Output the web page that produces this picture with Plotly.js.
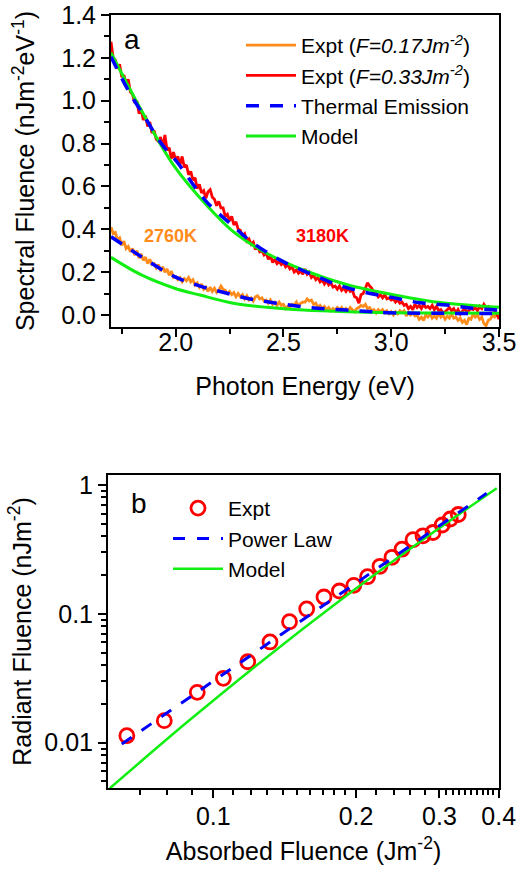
<!DOCTYPE html>
<html>
<head>
<meta charset="utf-8">
<script src="https://cdn.plot.ly/plotly-3.0.1.min.js"></script>
<style>html,body{margin:0;padding:0;background:#fff;}#chart{width:519px;height:871px;}</style>
</head>
<body>
<div id="chart"></div>
<script>
// ---------- Panel a : spectral fluence ----------
// photon energy grid of the experimental spectra (eV), 1.70 ... 3.50 step 0.01
const energyStart = 1.70, energyStep = 0.01;
const exptHigh = [ // Expt F=0.33 Jm^-2 (red)
  1.275,1.20,1.19,1.15,1.17,1.11,1.12,1.08,1.10,1.04,
  1.03,0.99,1.00,0.94,0.96,0.91,0.93,0.88,0.90,0.85,
  0.86,0.82,0.81,0.83,0.78,0.84,0.77,0.78,0.73,0.76,
  0.72,0.74,0.70,0.74,0.69,0.70,0.655,0.67,0.63,0.64,
  0.59,0.61,0.57,0.58,0.545,0.575,0.585,0.55,0.54,0.51,
  0.53,0.50,0.50,0.46,0.47,0.44,0.46,0.42,0.435,0.40,
  0.395,0.37,0.38,0.345,0.355,0.33,0.34,0.305,0.325,0.295,
  0.30,0.28,0.29,0.26,0.275,0.245,0.26,0.24,0.25,0.235,
  0.245,0.225,0.235,0.215,0.225,0.20,0.21,0.195,0.205,0.19,
  0.215,0.19,0.20,0.175,0.185,0.165,0.175,0.155,0.165,0.145,
  0.16,0.14,0.15,0.13,0.135,0.12,0.135,0.115,0.125,0.11,
  0.125,0.11,0.115,0.085,0.08,0.055,0.095,0.10,0.125,0.15,
  0.135,0.125,0.10,0.105,0.085,0.095,0.08,0.095,0.075,0.08,
  0.07,0.075,0.06,0.07,0.055,0.06,0.045,0.05,0.03,0.04,
  0.025,0.05,0.035,0.045,0.03,0.05,0.035,0.04,0.03,0.045,
  0.025,0.04,0.02,0.025,0.01,0.015,0.025,0.035,0.02,0.03,
  0.01,0.025,0.005,0.02,0.03,0.015,0.02,0.03,0.025,0.035,
  0.02,0.04,0.03,0.05,0.035,0.04,0.025,0.03,0.015,0.005,-0.02
];
const exptLow = [ // Expt F=0.17 Jm^-2 (orange)
  0.41,0.38,0.385,0.35,0.36,0.325,0.345,0.31,0.32,0.295,
  0.31,0.28,0.30,0.265,0.285,0.255,0.27,0.24,0.26,0.235,
  0.24,0.22,0.235,0.205,0.225,0.20,0.215,0.185,0.205,0.175,
  0.18,0.165,0.175,0.155,0.17,0.16,0.175,0.155,0.165,0.14,
  0.15,0.13,0.145,0.12,0.13,0.11,0.13,0.11,0.125,0.105,
  0.115,0.135,0.12,0.115,0.10,0.11,0.095,0.105,0.085,0.10,
  0.085,0.095,0.075,0.09,0.07,0.08,0.065,0.085,0.09,0.075,
  0.08,0.065,0.07,0.055,0.07,0.05,0.06,0.045,0.06,0.045,
  0.05,0.03,0.04,0.035,0.05,0.045,0.06,0.04,0.055,0.06,
  0.06,0.075,0.065,0.07,0.05,0.055,0.035,0.045,0.03,0.04,
  0.025,0.035,0.02,0.03,0.02,0.035,0.025,0.035,0.02,0.03,
  0.02,0.035,0.025,0.015,0.03,0.035,0.045,0.04,0.05,0.03,
  0.035,0.02,0.025,0.01,0.025,0.015,0.025,0.01,0.02,0.005,
  0.015,0.0,0.015,0.005,0.02,0.01,0.02,-0.005,0.01,0.0,
  0.01,-0.005,0.0,-0.02,-0.01,-0.025,0.0,-0.01,0.005,-0.015,
  -0.005,-0.015,0.01,-0.01,0.0,-0.02,-0.005,-0.015,0.005,-0.015,
  -0.01,-0.025,-0.015,-0.035,-0.025,-0.045,-0.015,-0.02,0.005,-0.01,
  0.0,-0.02,-0.01,-0.04,-0.05,-0.025,-0.02,0.0,-0.01,0.005,-0.01
];
const energy = exptHigh.map((_, i) => +(energyStart + i * energyStep).toFixed(2));

// thermal emission fits (blue dashed)
const thermHighE = [1.70,1.779,1.856,1.933,2.011,2.088,2.15,2.252,2.36,2.499,2.638,2.754,2.878,3.009,3.133,3.257,3.38,3.50];
const thermHighY = [1.205,1.05,0.925,0.801,0.708,0.599,0.521,0.428,0.335,0.249,0.187,0.140,0.106,0.081,0.057,0.047,0.031,0.023];
const thermLowE  = [1.70,1.841,1.995,2.113,2.22,2.345,2.469,2.60,2.73,2.855,2.986,3.20,3.50];
const thermLowY  = [0.365,0.272,0.179,0.135,0.106,0.075,0.055,0.037,0.027,0.019,0.011,0.008,0.007];
// model (green)
const modelHighE = [1.70,1.84,1.995,2.15,2.267,2.422,2.592,2.80,3.04,3.195,3.35,3.50];
const modelHighY = [1.224,0.957,0.692,0.505,0.389,0.288,0.210,0.140,0.089,0.062,0.047,0.036];
const modelLowE  = [1.70,1.841,1.995,2.113,2.267,2.422,2.592,2.80,3.00,3.25,3.50];
const modelLowY  = [0.269,0.187,0.125,0.093,0.055,0.036,0.023,0.015,0.011,0.009,0.008];

// ---------- Panel b : radiant vs absorbed fluence ----------
const absorbed = [0.0657,0.0788,0.0925,0.1050,0.1182,0.1317,0.1448,0.1574,0.1712,0.1845,0.1979,
                  0.2115,0.2247,0.2382,0.2501,0.2638,0.2769,0.2907,0.3040,0.3162,0.3287];
const radiant  = [0.01133,0.01482,0.0246,0.0316,0.0425,0.0605,0.0869,0.1091,0.1351,0.1504,0.1665,
                  0.1942,0.2339,0.2748,0.3175,0.3762,0.4034,0.4279,0.4893,0.5446,0.5902];
const powerX = [0.0641,0.3773];
const powerY = [0.00977,0.862];
const modelBX = [0.0605,0.0881,0.1283,0.1868,0.2720,0.3962];
const modelBY = [0.00443,0.01446,0.0447,0.1303,0.3594,0.9443];

const ORANGE = '#ff8c1a', RED = '#ff0000', BLUE = '#0000ff', GREEN = '#11ee11';
const FONT = 'Liberation Sans, Arial, sans-serif';

const traces = [
  {x: energy, y: exptLow, type: 'scatter', mode: 'lines', name: 'Expt (<i>F=0.17Jm<sup>-2</sup></i>)',
   line: {color: ORANGE, width: 2.8}, xaxis: 'x', yaxis: 'y', legend: 'legend', legendrank: 1},
  {x: energy, y: exptHigh, type: 'scatter', mode: 'lines', name: 'Expt (<i>F=0.33Jm<sup>-2</sup></i>)',
   line: {color: RED, width: 2.8}, xaxis: 'x', yaxis: 'y', legend: 'legend', legendrank: 2},
  {x: modelHighE, y: modelHighY, type: 'scatter', mode: 'lines', name: 'Model',
   line: {color: GREEN, width: 3, shape: 'spline'}, xaxis: 'x', yaxis: 'y', legend: 'legend', legendrank: 4},
  {x: modelLowE, y: modelLowY, type: 'scatter', mode: 'lines', name: 'Model', showlegend: false,
   line: {color: GREEN, width: 3, shape: 'spline'}, xaxis: 'x', yaxis: 'y'},
  {x: thermHighE, y: thermHighY, type: 'scatter', mode: 'lines', name: 'Thermal Emission',
   line: {color: BLUE, width: 3.5, dash: '13px,11px', shape: 'spline'}, xaxis: 'x', yaxis: 'y', legend: 'legend', legendrank: 3},
  {x: thermLowE, y: thermLowY, type: 'scatter', mode: 'lines', name: 'Thermal Emission', showlegend: false,
   line: {color: BLUE, width: 3.5, dash: '13px,11px', shape: 'spline'}, xaxis: 'x', yaxis: 'y'},

  {x: absorbed, y: radiant, type: 'scatter', mode: 'markers', name: 'Expt',
   marker: {symbol: 'circle-open', size: 14, color: RED, line: {color: RED, width: 2.8}},
   xaxis: 'x2', yaxis: 'y2', legend: 'legend2', legendrank: 1},
  {x: modelBX, y: modelBY, type: 'scatter', mode: 'lines', name: 'Model',
   line: {color: GREEN, width: 2.5, shape: 'spline'}, xaxis: 'x2', yaxis: 'y2', legend: 'legend2', legendrank: 3},
  {x: powerX, y: powerY, type: 'scatter', mode: 'lines', name: 'Power Law',
   line: {color: BLUE, width: 3, dash: '12px,12px'}, xaxis: 'x2', yaxis: 'y2', legend: 'legend2', legendrank: 2}
];

const W = 519, H = 871;
const axisCommon = {
  showline: true, mirror: true, linecolor: '#000', linewidth: 2,
  ticks: 'outside', ticklen: 8, tickwidth: 2, tickcolor: '#000',
  showgrid: false, zeroline: false, automargin: false,
  tickfont: {family: FONT, size: 25, color: '#000'}
};
const minorCommon = {ticks: 'outside', ticklen: 5, tickwidth: 2, tickcolor: '#000', showgrid: false};

const minorX2 = [0.07,0.08,0.09,0.11,0.12,0.13,0.14,0.15,0.16,0.17,0.18,0.19,0.22,0.24,0.26,0.28,
                 0.31,0.32,0.33,0.34,0.35,0.36,0.37,0.38,0.39];
const minorY2 = [0.005,0.006,0.007,0.008,0.009,0.02,0.03,0.04,0.05,0.06,0.07,0.08,0.09,
                 0.2,0.3,0.4,0.5,0.6,0.7,0.8,0.9];

const layout = {
  width: W, height: H,
  margin: {l: 0, r: 0, t: 0, b: 0},
  paper_bgcolor: '#fff', plot_bgcolor: '#fff',
  font: {family: FONT, color: '#000'},
  xaxis: Object.assign({}, axisCommon, {
    domain: [111 / W, 499 / W], anchor: 'y', range: [1.7, 3.5],
    tick0: 0, dtick: 0.5, tickformat: '.1f', ticklabelstandoff: -16,
    minor: Object.assign({}, minorCommon, {dtick: 0.25, tick0: 0}),
    title: {text: 'Photon Energy (eV)', font: {family: FONT, size: 25}, standoff: 22}
  }),
  yaxis: Object.assign({}, axisCommon, {
    domain: [1 - 327 / H, 1 - 15 / H], anchor: 'x', range: [-0.056, 1.4],
    tick0: 0, dtick: 0.2, tickformat: '.1f',
    minor: Object.assign({}, minorCommon, {dtick: 0.1, tick0: 0}),
    title: {text: 'Spectral Fluence (nJm<sup>-2</sup>eV<sup>-1</sup>)', font: {family: FONT, size: 25}, standoff: 19}
  }),
  xaxis2: Object.assign({}, axisCommon, {
    domain: [108 / W, 499 / W], anchor: 'y2', type: 'log', range: [-1.2222, -0.3973],
    tickmode: 'array', tickvals: [0.1, 0.2, 0.3, 0.4], ticktext: ['0.1', '0.2', '0.3', '0.4'],
    ticklabelstandoff: -3,
    minor: Object.assign({}, minorCommon, {tickmode: 'array', tickvals: minorX2}),
    title: {text: 'Absorbed Fluence (Jm<sup>-2</sup>)', font: {family: FONT, size: 25}, standoff: 13}
  }),
  yaxis2: Object.assign({}, axisCommon, {
    domain: [1 - 788 / H, 1 - 475 / H], anchor: 'x2', type: 'log', range: [-2.3516, 0.0776],
    tickmode: 'array', tickvals: [0.01, 0.1, 1], ticktext: ['0.01', '0.1', '1'],
    minor: Object.assign({}, minorCommon, {tickmode: 'array', tickvals: minorY2}),
    title: {text: 'Radiant Fluence (nJm<sup>-2</sup>)', font: {family: FONT, size: 25}, standoff: 6}
  }),
  legend: {
    x: 241 / W, y: 1 - 25 / H, xanchor: 'left', yanchor: 'top',
    bgcolor: 'rgba(0,0,0,0)', borderwidth: 0, itemwidth: 50,
    font: {family: FONT, size: 21, color: '#000'}, tracegroupgap: 0
  },
  legend2: {
    x: 168 / W, y: 1 - 488 / H, xanchor: 'left', yanchor: 'top',
    bgcolor: 'rgba(0,0,0,0)', borderwidth: 0, itemwidth: 50,
    font: {family: FONT, size: 21, color: '#000'}, tracegroupgap: 0
  },
  annotations: [
    {xref: 'paper', yref: 'paper', x: 132 / W, y: 1 - 39 / H, text: 'a', showarrow: false,
     font: {family: FONT, size: 28, color: '#000'}, xanchor: 'center', yanchor: 'middle'},
    {xref: 'paper', yref: 'paper', x: 139 / W, y: 1 - 503 / H, text: 'b', showarrow: false,
     font: {family: FONT, size: 28, color: '#000'}, xanchor: 'center', yanchor: 'middle'},
    {xref: 'x', yref: 'y', x: 1.976, y: 0.369, text: '<b>2760K</b>', showarrow: false,
     font: {family: FONT, size: 18, color: ORANGE}},
    {xref: 'x', yref: 'y', x: 2.683, y: 0.369, text: '<b>3180K</b>', showarrow: false,
     font: {family: FONT, size: 18, color: RED}}
  ],
  showlegend: true
};

Plotly.newPlot('chart', traces, layout, {displayModeBar: false, responsive: false});
</script>
</body>
</html>
